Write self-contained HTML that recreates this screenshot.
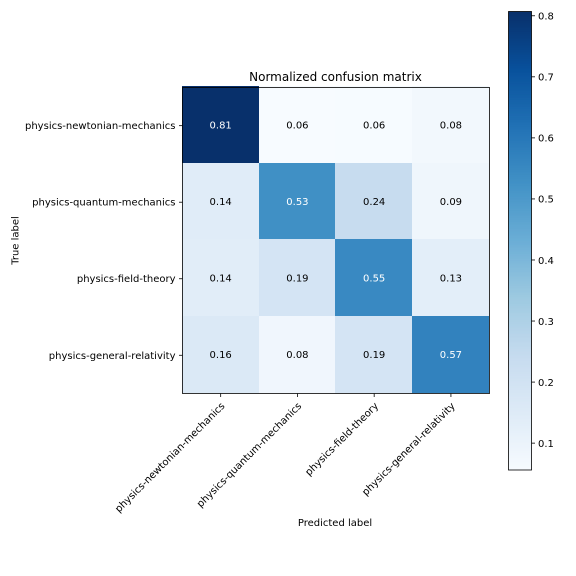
<!DOCTYPE html>
<html>
<head>
<meta charset="utf-8">
<title>Normalized confusion matrix</title>
<style>
html,body{margin:0;padding:0;background:#fff;}
svg{display:block;font-family:"DejaVu Sans","Liberation Sans",sans-serif;}
text{fill:#000;}
</style>
</head>
<body>
<svg id="chart" xmlns="http://www.w3.org/2000/svg" width="576" height="576" viewBox="0 0 576 576">
<rect width="576" height="576" fill="#fff"/>
<text x="335.5" y="81" font-size="12" text-anchor="middle">Normalized confusion matrix</text>
<text x="335" y="526" font-size="10" text-anchor="middle">Predicted label</text>
<text transform="translate(18.5 240.5) rotate(-90)" font-size="10" text-anchor="middle">True label</text>
<g id="cells"></g>
<g id="xticks"></g>
<g id="yticks"></g>
<rect x="182.5" y="87.5" width="307" height="306" fill="none" stroke="#000" stroke-width="0.8"/>
<g id="colorbar"></g>
</svg>
<script>
const categories = ["physics-newtonian-mechanics", "physics-quantum-mechanics", "physics-field-theory", "physics-general-relativity"];
const row1Values = [0.807, 0.056, 0.058, 0.076];
const row2Values = [0.144, 0.53, 0.24, 0.087];
const row3Values = [0.14, 0.19, 0.55, 0.13];
const row4Values = [0.16, 0.084, 0.19, 0.57];
const colorbarTicks = [0.1, 0.2, 0.3, 0.4, 0.5, 0.6, 0.7, 0.8];
const bluesStops = ["#f7fbff", "#deebf7", "#c6dbef", "#9ecae1", "#6baed6", "#4292c6", "#2171b5", "#08519c", "#08306b"];

const NS = "http://www.w3.org/2000/svg";
const matrix = [row1Values, row2Values, row3Values, row4Values];
const allValues = matrix.flat();
const vMin = Math.min(...allValues);
const vMax = Math.max(...allValues);

const plot = {left: 182.3, right: 489.3, top: 86.9, bottom: 393.05, frameBottom: 393.5};
const bar = {left: 508.5, right: 531.5, top: 11.5, bottom: 470};

function make(tag, attrs, parent) {
  const el = document.createElementNS(NS, tag);
  for (const k in attrs) el.setAttribute(k, attrs[k]);
  parent.appendChild(el);
  return el;
}
function xScale(i) { return plot.left + (plot.right - plot.left) * i / categories.length; }
function yScale(i) { return plot.top + (plot.bottom - plot.top) * i / categories.length; }
function barScale(v) { return bar.bottom - (v - vMin) / (vMax - vMin) * (bar.bottom - bar.top); }
function hexToRgb(h) { return [1, 3, 5].map(function (p) { return parseInt(h.substr(p, 2), 16); }); }
function colorFor(v) {
  const t = Math.max(0, Math.min(1, (v - vMin) / (vMax - vMin))) * (bluesStops.length - 1);
  const i = Math.min(Math.floor(t), bluesStops.length - 2);
  const a = hexToRgb(bluesStops[i]);
  const b = hexToRgb(bluesStops[i + 1]);
  const f = t - i;
  return "rgb(" + a.map(function (c, k) { return Math.round(c + (b[k] - c) * f); }).join(",") + ")";
}

const cellsG = document.getElementById("cells");
const threshold = vMax / 2;
matrix.forEach(function (row, r) {
  row.forEach(function (v, c) {
    const x0 = Math.floor(xScale(c));
    const x1 = Math.floor(xScale(c + 1));
    const y0 = Math.floor(yScale(r));
    const y1 = Math.floor(yScale(r + 1));
    const rect = make("rect", {x: x0, y: y0, width: x1 - x0, height: y1 - y0, fill: colorFor(v), "shape-rendering": "crispEdges"}, cellsG);
    
    
    const label = make("text", {x: (xScale(c) + xScale(c + 1)) / 2, y: (yScale(r) + yScale(r + 1)) / 2 + 3.1, "font-size": 10, "text-anchor": "middle"}, cellsG);
    
    
    label.style.fill = v > threshold ? "#fff" : "#000";
    label.textContent = v.toFixed(2);
  });
});

const xG = document.getElementById("xticks");
const yG = document.getElementById("yticks");
categories.forEach(function (name, i) {
  const xc = (xScale(i) + xScale(i + 1)) / 2;
  const yc = (yScale(i) + yScale(i + 1)) / 2 + 0.5;
  const xt = make("line", {x1: xc, x2: xc, y1: plot.frameBottom, y2: plot.frameBottom + 3.5, stroke: "#000", "stroke-width": 0.8}, xG);
  
  
  const xl = make("text", {transform: "translate(" + (xc + 4.7) + " " + (plot.frameBottom + 13) + ") rotate(-45)", "font-size": 10, "text-anchor": "end"}, xG);
  
  
  xl.textContent = name;
  const yt = make("line", {x1: 179, x2: 182.5, y1: yc, y2: yc, stroke: "#000", "stroke-width": 0.8}, yG);
  
  
  const yl = make("text", {x: 175.5, y: yc + 3.5, "font-size": 10, "text-anchor": "end"}, yG);
  
  
  yl.textContent = name;
});

const cb = document.getElementById("colorbar");
const barSteps = 256;
for (let s = 0; s < barSteps; s++) {
  const v0 = vMin + (vMax - vMin) * s / barSteps;
  const v1 = vMin + (vMax - vMin) * (s + 1) / barSteps;
  const strip = make("rect", {x: bar.left, y: barScale(v1), width: bar.right - bar.left, height: barScale(v0) - barScale(v1) + 0.5, fill: colorFor((v0 + v1) / 2)}, cb);
  
  
}
const frame = make("rect", {x: bar.left, y: bar.top, width: bar.right - bar.left, height: bar.bottom - bar.top, fill: "none", stroke: "#000", "stroke-width": 0.8}, cb);


colorbarTicks.forEach(function (v) {
  const y = barScale(v);
  const t = make("line", {x1: bar.right, x2: bar.right + 3.5, y1: y, y2: y, stroke: "#000", "stroke-width": 0.8}, cb);
  
  
  const l = make("text", {x: bar.right + 6.5, y: y + 3.8, "font-size": 10}, cb);
  
  
  l.textContent = v.toFixed(1);
});
</script>
</body>
</html>
